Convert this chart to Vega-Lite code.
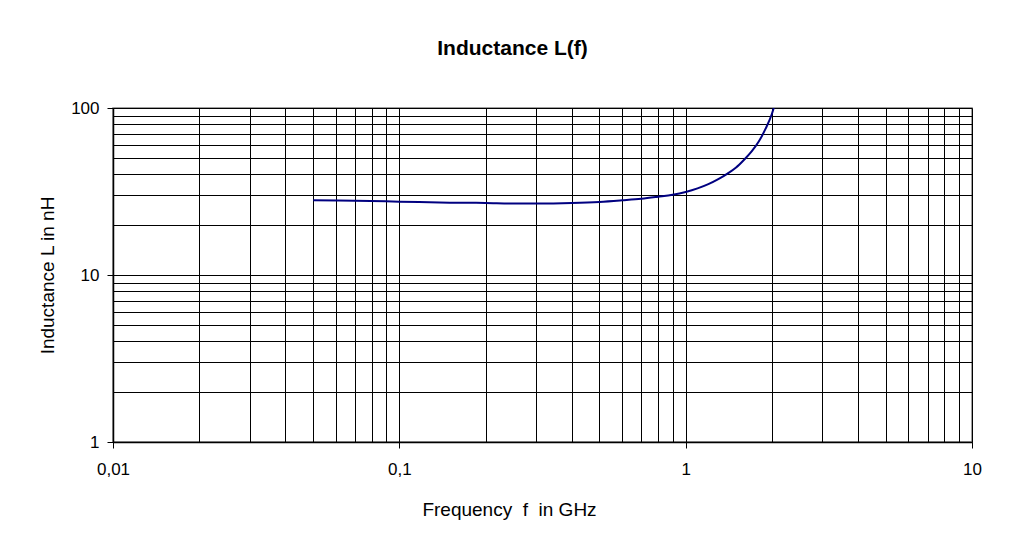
{
  "$schema": "https://vega.github.io/schema/vega-lite/v6.json",
  "width": 859,
  "height": 334,
  "autosize": {"type": "none"},
  "padding": {"left": 113, "top": 108, "right": 37, "bottom": 97},
  "background": "white",
  "title": {
    "text": "Inductance L(f)",
    "font": "Liberation Sans",
    "fontSize": 21,
    "fontWeight": "bold",
    "color": "#000000",
    "anchor": "middle",
    "baseline": "alphabetic",
    "offset": 23,
    "dx": -30
  },
  "config": {
    "view": {"stroke": "#808080", "strokeWidth": 1.5},
    "axis": {
      "labelFont": "Liberation Sans",
      "titleFont": "Liberation Sans",
      "labelColor": "#000000",
      "titleColor": "#000000",
      "titleFontWeight": "normal",
      "domainColor": "#000000",
      "domainWidth": 1.5,
      "tickColor": "#000000",
      "gridColor": "#000000",
      "gridWidth": 1,
      "gridOpacity": 1
    }
  },
  "data": {
    "values": [
      {"f": 0.05, "L": 28.0},
      {"f": 0.07, "L": 27.8},
      {"f": 0.1, "L": 27.5},
      {"f": 0.15, "L": 27.1},
      {"f": 0.2, "L": 27.0},
      {"f": 0.25, "L": 26.8},
      {"f": 0.3, "L": 26.8},
      {"f": 0.4, "L": 27.0},
      {"f": 0.5, "L": 27.4},
      {"f": 0.6, "L": 28.0},
      {"f": 0.7, "L": 28.6},
      {"f": 0.8, "L": 29.4},
      {"f": 0.9, "L": 30.2},
      {"f": 1.0, "L": 31.4},
      {"f": 1.1, "L": 33.0},
      {"f": 1.2, "L": 35.0},
      {"f": 1.3, "L": 37.5},
      {"f": 1.4, "L": 40.5},
      {"f": 1.5, "L": 44.0},
      {"f": 1.6, "L": 49.0},
      {"f": 1.7, "L": 55.0},
      {"f": 1.8, "L": 63.0},
      {"f": 1.9, "L": 75.0},
      {"f": 2.0, "L": 92.0},
      {"f": 2.05, "L": 106.0}
    ]
  },
  "mark": {"type": "line", "color": "#000080", "strokeWidth": 2, "clip": true, "interpolate": "monotone"},
  "encoding": {
    "x": {
      "field": "f",
      "type": "quantitative",
      "scale": {"type": "log", "domain": [0.01, 10], "nice": false},
      "axis": {
        "values": [0.01, 0.02, 0.03, 0.04, 0.05, 0.06, 0.07, 0.08, 0.09, 0.1, 0.2, 0.3, 0.4, 0.5, 0.6, 0.7, 0.8, 0.9, 1, 2, 3, 4, 5, 6, 7, 8, 9, 10],
        "labelExpr": "indexof([0.01, 0.1, 1, 10], datum.value) >= 0 ? replace(toString(datum.value), '.', ',') : ''",
        "tickOpacity": {"condition": {"test": "indexof([0.01, 0.1, 1, 10], datum.value) >= 0", "value": 1}, "value": 0},
        "tickSize": 6,
        "labelFontSize": 17,
        "labelPadding": 13,
        "labelFlush": false,
        "labelOverlap": false,
        "title": "Frequency\u00a0 f\u00a0 in GHz",
        "titleFontSize": 19,
        "titleX": 396,
        "titleY": 73,
        "titleBaseline": "alphabetic",
        "titleAnchor": "middle"
      }
    },
    "y": {
      "field": "L",
      "type": "quantitative",
      "scale": {"type": "log", "domain": [1, 100], "nice": false},
      "axis": {
        "values": [1, 2, 3, 4, 5, 6, 7, 8, 9, 10, 20, 30, 40, 50, 60, 70, 80, 90, 100],
        "labelExpr": "indexof([1, 10, 100], datum.value) >= 0 ? toString(datum.value) : ''",
        "tickOpacity": {"condition": {"test": "indexof([1, 10, 100], datum.value) >= 0", "value": 1}, "value": 0},
        "tickSize": 6,
        "labelFontSize": 17,
        "labelPadding": 8,
        "labelFlush": false,
        "labelOverlap": false,
        "title": "Inductance L in nH",
        "titleFontSize": 19,
        "titleAngle": 270,
        "titleX": -60,
        "titleY": 167,
        "titleBaseline": "alphabetic",
        "titleAlign": "center"
      }
    }
  }
}
